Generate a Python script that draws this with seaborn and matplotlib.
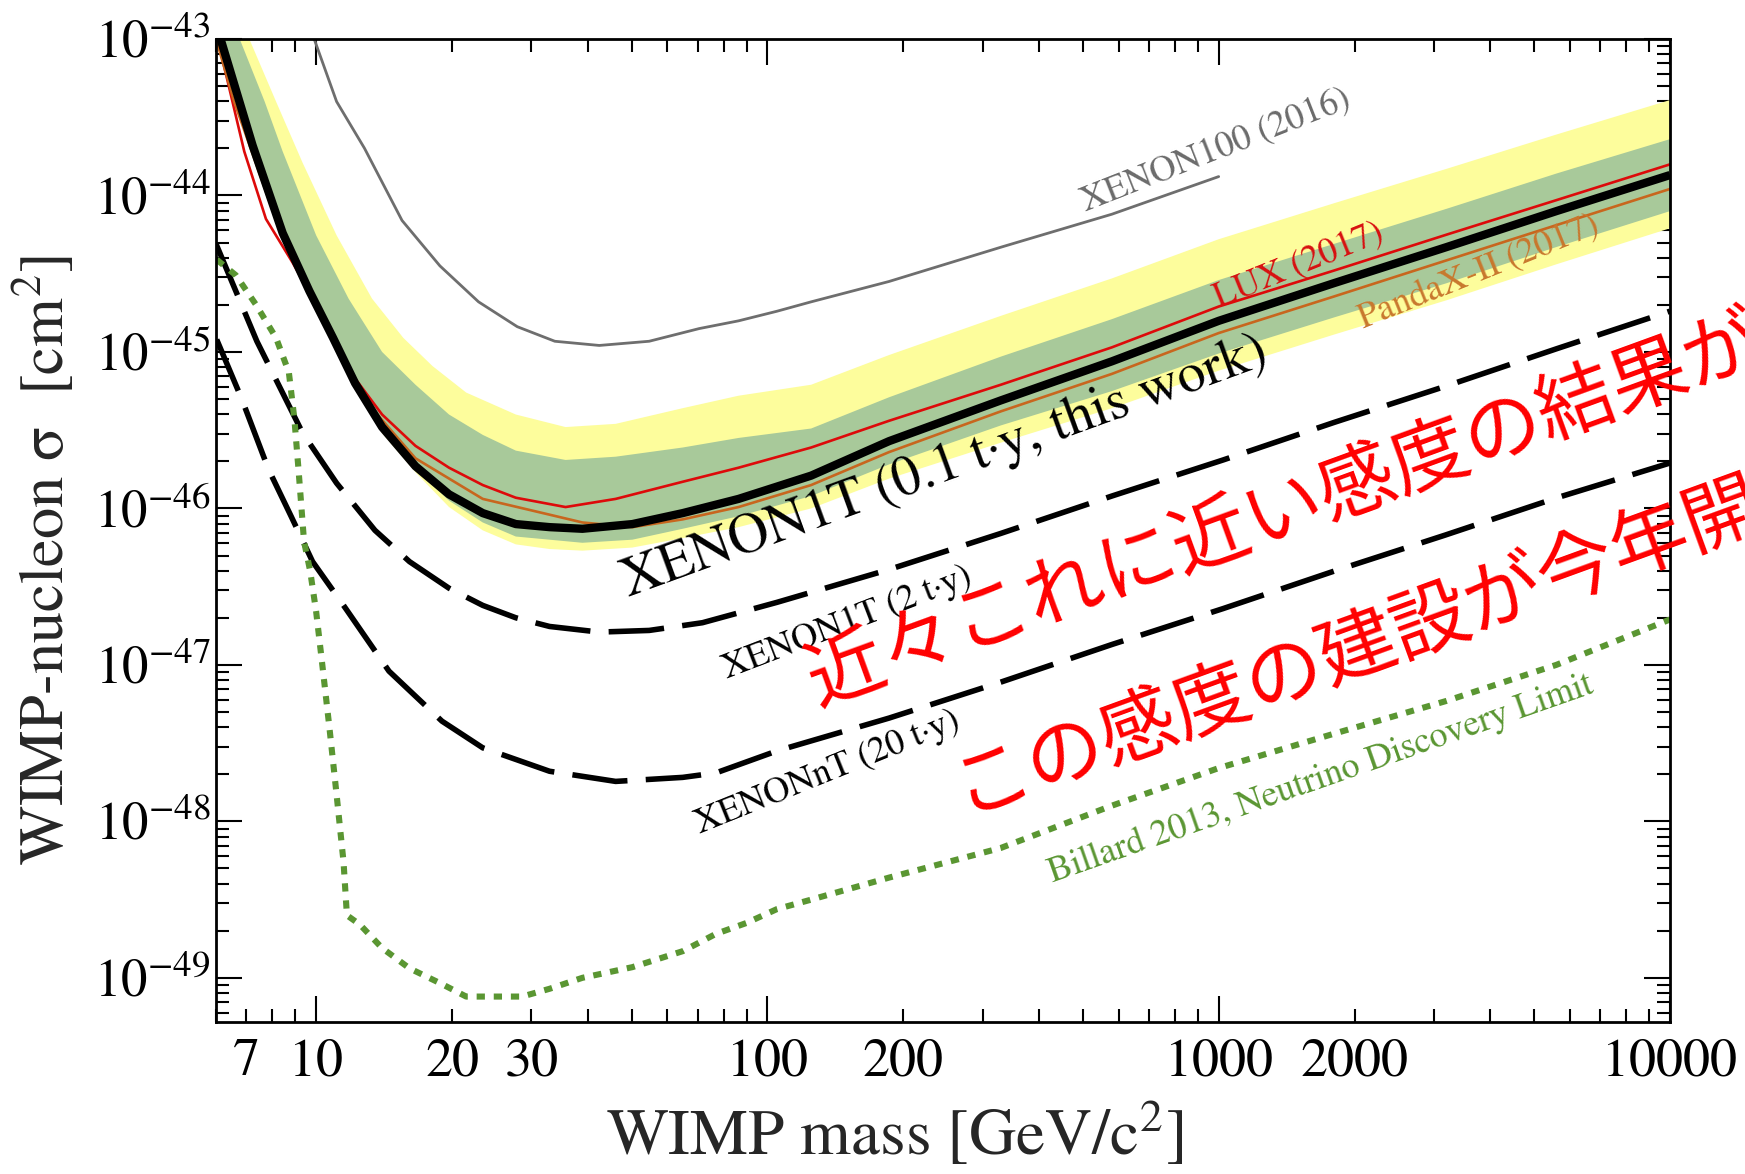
import matplotlib
matplotlib.use("Agg")
import matplotlib.pyplot as plt
import seaborn as sns

# ---------------- data ----------------
# XENON1T 0.1 t*y (this work)
x1t_mass = [6.14, 7.23, 8.43, 9.66, 10.9, 12.2, 14.0, 16.6, 19.7, 23.4, 27.7, 32.9, 38.9,
            50.2, 64.9, 86.3, 125, 186, 329, 580, 1000, 1800, 3200, 5600, 10000]
x1t_sigma = [1.0e-43, 2.09e-44, 5.75e-45, 2.45e-45, 1.23e-45, 6.31e-46, 3.31e-46, 1.86e-46,
             1.23e-46, 9.33e-47, 7.94e-47, 7.59e-47, 7.41e-47, 7.94e-47, 9.33e-47, 1.15e-46,
             1.62e-46, 2.69e-46, 4.90e-46, 8.71e-46, 1.58e-45, 2.75e-45, 4.68e-45, 7.94e-45,
             1.35e-44]

# 2 sigma (yellow) and 1 sigma (green) sensitivity bands
yel_up_mass = [7.11, 8.15, 9.33, 11.1, 13.3, 15.6, 18.1, 21.5, 27.7, 35.7, 46.1, 64.9, 86.3,
               125, 186, 329, 580, 1000, 1800, 3200, 5600, 10000]
yel_up_sigma = [1.0e-43, 3.98e-44, 1.62e-44, 5.56e-45, 2.19e-45, 1.23e-45, 8.13e-46, 5.50e-46,
                3.98e-46, 3.31e-46, 3.47e-46, 4.37e-46, 5.25e-46, 6.17e-46, 9.55e-46, 1.70e-45,
                2.95e-45, 5.25e-45, 8.91e-45, 1.48e-44, 2.45e-44, 4.07e-44]
yel_lo_mass = [6.14, 7.23, 8.43, 9.66, 10.9, 12.2, 14.0, 16.6, 19.7, 23.4, 27.7, 32.9, 38.9,
               50.2, 64.9, 86.3, 125, 186, 329, 580, 1000, 1800, 3200, 5600, 10000]
yel_lo_sigma = [1.0e-43, 1.91e-44, 5.25e-45, 2.24e-45, 1.12e-45, 5.75e-46, 3.02e-46, 1.70e-46,
                1.02e-46, 7.24e-47, 5.89e-47, 5.50e-47, 5.37e-47, 5.62e-47, 6.46e-47, 7.59e-47,
                1.0e-46, 1.55e-46, 2.63e-46, 4.37e-46, 7.59e-46, 1.29e-45, 2.14e-45, 3.63e-45,
                6.17e-45]
grn_up_mass = [6.77, 7.69, 8.43, 10.0, 11.8, 14.0, 16.6, 19.7, 23.4, 27.7, 35.7, 46.1, 64.9,
               86.3, 125, 186, 329, 580, 1000, 1800, 3200, 5600, 10000]
grn_up_sigma = [1.0e-43, 3.98e-44, 1.91e-44, 5.56e-45, 2.19e-45, 1.0e-45, 6.17e-46, 3.98e-46,
                2.95e-46, 2.34e-46, 2.04e-46, 2.14e-46, 2.45e-46, 2.82e-46, 3.24e-46, 5.13e-46,
                9.33e-46, 1.62e-45, 2.88e-45, 4.90e-45, 8.22e-45, 1.38e-44, 2.29e-44]
grn_lo_mass = [6.14, 7.23, 8.43, 9.66, 10.9, 12.2, 14.0, 16.6, 19.7, 23.4, 27.7, 32.9, 38.9,
               50.2, 64.9, 86.3, 125, 186, 329, 580, 1000, 1800, 3200, 5600, 10000]
grn_lo_sigma = [1.0e-43, 2.00e-44, 5.50e-45, 2.34e-45, 1.17e-45, 6.03e-46, 3.16e-46, 1.78e-46,
                1.12e-46, 8.13e-47, 6.61e-47, 6.31e-47, 6.03e-47, 6.31e-47, 7.41e-47, 8.91e-47,
                1.20e-46, 1.91e-46, 3.39e-46, 5.62e-46, 9.77e-46, 1.66e-45, 2.75e-45, 4.68e-45,
                7.94e-45]

# LUX (2017)
lux_mass = [6.05, 6.93, 7.74, 8.87, 10.2, 12.2, 14.0, 16.6, 19.7, 23.4, 27.7, 35.7, 46.1,
            64.9, 86.3, 125, 186, 329, 580, 1000, 1800, 3200, 5600, 10000]
lux_sigma = [1.0e-43, 1.91e-44, 7.08e-45, 3.72e-45, 1.82e-45, 6.76e-46, 3.98e-46, 2.51e-46,
             1.82e-46, 1.41e-46, 1.17e-46, 1.02e-46, 1.15e-46, 1.48e-46, 1.82e-46, 2.45e-46,
             3.63e-46, 6.17e-46, 1.07e-45, 1.95e-45, 3.31e-45, 5.62e-45, 9.33e-45, 1.58e-44]

# PandaX-II (2017)
pandax_mass = [6.0, 6.58, 7.84, 9.52, 11.3, 13.1, 16.6, 23.4, 32.9, 38.9, 50.2, 64.9, 86.3,
               125, 186, 329, 580, 1000, 1800, 3200, 5600, 10000]
pandax_sigma = [1.0e-43, 3.98e-44, 9.55e-45, 2.57e-45, 1.0e-45, 4.57e-46, 2.09e-46, 1.15e-46,
                9.12e-47, 8.13e-47, 7.59e-47, 8.51e-47, 1.02e-46, 1.41e-46, 2.29e-46, 4.17e-46,
                7.24e-46, 1.32e-45, 2.26e-45, 3.85e-45, 6.46e-45, 1.10e-44]

# XENON100 (2016)
x100_mass = [9.9, 11.1, 12.8, 15.5, 18.8, 22.9, 27.9, 33.8, 42.4, 54.7, 70.6, 86.3, 105,
             125, 186, 330, 580, 1000]
x100_sigma = [1.0e-43, 3.98e-44, 2.00e-44, 6.92e-45, 3.55e-45, 2.09e-45, 1.45e-45, 1.17e-45,
              1.10e-45, 1.17e-45, 1.41e-45, 1.58e-45, 1.82e-45, 2.09e-45, 2.82e-45, 4.68e-45,
              7.59e-45, 1.32e-44]

# XENON1T (2 t*y) projected sensitivity
x1t2_mass = [6.0, 7.39, 9.34, 11.1, 13.5, 16.1, 19.7, 23.4, 27.7, 32.9, 42.4, 54.7, 71.8,
             105, 186, 329, 580, 1023, 1805, 3180, 5620, 10000]
x1t2_sigma = [4.90e-45, 1.17e-45, 3.02e-46, 1.45e-46, 7.24e-47, 4.57e-47, 3.09e-47, 2.40e-47,
              2.00e-47, 1.76e-47, 1.62e-47, 1.66e-47, 1.86e-47, 2.51e-47, 4.07e-47, 6.92e-47,
              1.20e-46, 2.04e-46, 3.55e-46, 6.03e-46, 1.05e-45, 1.82e-45]

# XENONnT (20 t*y) projected sensitivity
xnt_mass = [6.02, 6.84, 7.84, 8.8, 9.82, 11.5, 14.5, 19.0, 23.4, 32.9, 46.1, 64.9, 76.9,
            105, 186, 329, 580, 1023, 1805, 3180, 5620, 10000]
xnt_sigma = [1.20e-45, 5.01e-46, 1.78e-46, 8.91e-47, 4.57e-47, 2.40e-47, 9.12e-48, 4.37e-48,
             2.95e-48, 2.09e-48, 1.80e-48, 1.91e-48, 2.04e-48, 2.82e-48, 4.57e-48, 7.76e-48,
             1.35e-47, 2.29e-47, 3.98e-47, 6.76e-47, 1.17e-46, 1.95e-46]

# Billard 2013 neutrino discovery limit
nu_mass = [6.02, 6.64, 7.36, 8.15, 8.7, 8.95, 9.15, 9.4, 9.7, 10.0, 10.3, 10.7, 11.1, 11.5,
           11.7, 12.5, 14.0, 16.1, 19.0, 21.5, 28.6, 32.9, 38.9, 50.2, 64.9, 76.9, 89.8, 105,
           125, 186, 329, 580, 1000, 1800, 3200, 5600, 10000]
nu_sigma = [3.89e-45, 3.09e-45, 2.00e-45, 1.23e-45, 7.41e-46, 3.72e-46, 1.70e-46, 6.17e-47,
            3.98e-47, 2.19e-47, 1.05e-47, 3.98e-48, 1.48e-48, 5.50e-49, 2.51e-49, 2.19e-49,
            1.55e-49, 1.15e-49, 9.12e-50, 7.59e-50, 7.59e-50, 8.51e-50, 1.0e-49, 1.17e-49,
            1.48e-49, 1.91e-49, 2.24e-49, 2.75e-49, 3.16e-49, 4.37e-49, 6.76e-49, 1.26e-48,
            2.19e-48, 3.63e-48, 5.89e-48, 1.0e-47, 1.95e-47]

# tick labels
x_major_ticks = [10, 100, 1000, 10000]
x_major_labels = ["10", "100", "1000", "10000"]
x_minor_labelled = {7: "7", 20: "20", 30: "30", 200: "200", 2000: "2000"}
y_major_ticks = [1e-49, 1e-48, 1e-47, 1e-46, 1e-45, 1e-44, 1e-43]
y_major_labels = [r"$10^{-49}$", r"$10^{-48}$", r"$10^{-47}$", r"$10^{-46}$",
                  r"$10^{-45}$", r"$10^{-44}$", r"$10^{-43}$"]

# curve labels
lab_x100 = "XENON100 (2016)"
lab_lux = "LUX (2017)"
lab_pandax = "PandaX-II (2017)"
lab_x1t = "XENON1T (0.1 t\u00b7y, this work)"
lab_x1t2 = "XENON1T (2 t\u00b7y)"
lab_xnt = "XENONnT (20 t\u00b7y)"
lab_nu = "Billard 2013, Neutrino Discovery Limit"
jp_line1 = "近々これに近い感度の結果が"
jp_line2 = "この感度の建設が今年開"

# ---------------- style ----------------
sns.set_style("ticks")
plt.rcParams["font.family"] = ["STIXGeneral", "Noto Sans CJK JP", "DejaVu Sans"]
plt.rcParams["mathtext.fontset"] = "stix"
plt.rcParams["axes.unicode_minus"] = True

fig = plt.figure(figsize=(17.45, 11.74), dpi=100)
fig.patch.set_facecolor("white")
ax = fig.add_axes([0.1238, 0.1298, 0.8332, 0.8370])
ax.set_facecolor("white")
ax.set_xscale("log")
ax.set_yscale("log")

YELLOW = "#fdfd9c"
GREEN = "#a8c99a"

ax.fill(yel_up_mass + yel_lo_mass[::-1], yel_up_sigma + yel_lo_sigma[::-1],
        color=YELLOW, lw=0, zorder=1)
ax.fill(grn_up_mass + grn_lo_mass[::-1], grn_up_sigma + grn_lo_sigma[::-1],
        color=GREEN, lw=0, zorder=2)


def line(x, y, **kw):
    sns.lineplot(x=x, y=y, ax=ax, estimator=None, sort=False, legend=False, **kw)


line(x100_mass, x100_sigma, color="#6e6e6e", linewidth=2.0, zorder=3)
line(lux_mass, lux_sigma, color="#dd0a0a", linewidth=1.9, zorder=4)
line(pandax_mass, pandax_sigma, color="#c8661e", linewidth=1.9, zorder=4)
line(x1t_mass, x1t_sigma, color="black", linewidth=6.0, zorder=5,
     solid_capstyle="butt", solid_joinstyle="round")
line(x1t2_mass, x1t2_sigma, color="black", linewidth=4.0, zorder=5,
     linestyle=(0, (10, 3.3)))
line(xnt_mass, xnt_sigma, color="black", linewidth=4.0, zorder=5,
     linestyle=(0, (10, 3.3)))
line(nu_mass, nu_sigma, color="#5a9632", linewidth=4.4, zorder=5,
     linestyle=(0, (1.35, 1.45)))

ax.set_xlim(6, 10000)
ax.set_ylim(5.25e-50, 1e-43)

# ticks
ax.set_xticks(x_major_ticks)
ax.set_xticklabels(x_major_labels)
minor_pos = [k * d for d in (1, 10, 100, 1000) for k in range(2, 10) if 6 <= k * d < 10000]
ax.set_xticks(minor_pos, minor=True)
ax.set_xticklabels([x_minor_labelled.get(p, "") for p in minor_pos], minor=True)
ax.set_yticks(y_major_ticks)
ax.set_yticklabels(y_major_labels)
y_minor = [k * 10.0 ** e for e in range(-50, -43) for k in range(2, 10)
           if 5.25e-50 <= k * 10.0 ** e <= 1e-43]
ax.set_yticks(y_minor, minor=True)
ax.set_yticklabels([""] * len(y_minor), minor=True)

ax.tick_params(which="both", direction="in", top=True, right=True, width=1.5,
               colors="black")
ax.tick_params(which="major", length=19)
ax.tick_params(which="minor", length=9.5)
ax.tick_params(axis="x", which="both", labelsize=39, pad=12)
ax.tick_params(axis="y", which="both", labelsize=38, pad=4)
for sp in ax.spines.values():
    sp.set_linewidth(2.0)
    sp.set_color("black")
    sp.set_zorder(10)

ax.set_xlabel(r"WIMP mass [GeV/c$^2$]", fontsize=47)
ax.xaxis.set_label_coords(0.467, -0.08)
ax.set_ylabel("WIMP-nucleon \u03c3  [cm$^2$]", fontsize=45)
ax.yaxis.set_label_coords(-0.095, 0.47)

# curve labels
txt = dict(ha="center", va="center", rotation_mode="anchor", zorder=8)
ax.text(984, 1.95e-44, lab_x100, color="#6b6b6b", fontsize=26, rotation=21.5, **txt)
ax.text(1507, 3.6e-45, lab_lux, color="#d81010", fontsize=26, rotation=22, **txt)
ax.text(3776, 3.2e-45, lab_pandax, color="#c8782e", fontsize=26, rotation=22, **txt)
ax.text(247, 1.82e-46, lab_x1t, color="black", fontsize=40, rotation=20, **txt)
ax.text(150, 1.86e-47, lab_x1t2, color="black", fontsize=26, rotation=21, **txt)
ax.text(136, 2.04e-48, lab_xnt, color="black", fontsize=26, rotation=22, **txt)
ax.text(1687, 1.86e-48, lab_nu, color="#5a9632", fontsize=26, rotation=19.3, **txt)

# red Japanese overlay
fig.text(0.464, 0.417, jp_line1, rotation=20, rotation_mode="anchor", ha="left",
         va="center", fontsize=56, color="#ff0000",
         family=["Noto Sans CJK JP", "DejaVu Sans"], zorder=20)
fig.text(0.548, 0.325, jp_line2, rotation=20, rotation_mode="anchor", ha="left",
         va="center", fontsize=56, color="#ff0000",
         family=["Noto Sans CJK JP", "DejaVu Sans"], zorder=20)

fig.savefig("out.png", dpi=100, facecolor="white")
